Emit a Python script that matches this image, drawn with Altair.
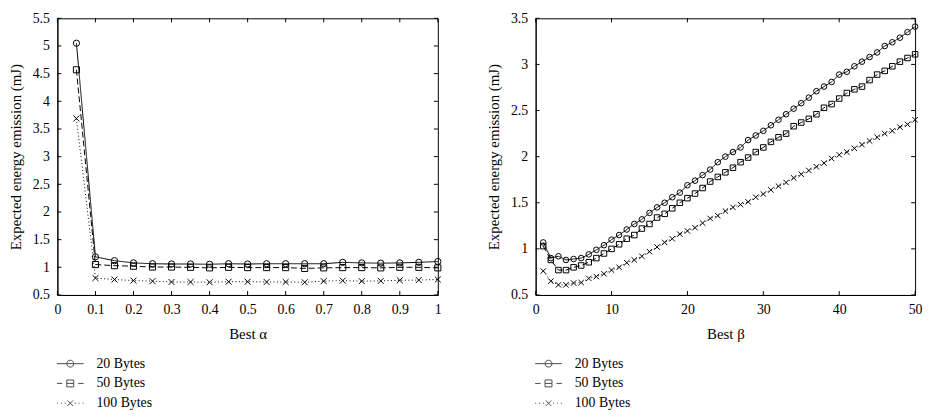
import altair as alt
import pandas as pd

FONT = "Liberation Serif"
SERIES = ["20 Bytes", "50 Bytes", "100 Bytes"]

# ---- left panel data (Best alpha) ----
alpha_x = [0.05, 0.1, 0.15, 0.2, 0.25, 0.3, 0.35, 0.4, 0.45, 0.5,
           0.55, 0.6, 0.65, 0.7, 0.75, 0.8, 0.85, 0.9, 0.95, 1.0]
alpha_20 = [5.05, 1.19, 1.12, 1.08, 1.065, 1.06, 1.06, 1.055, 1.065, 1.06,
            1.065, 1.065, 1.065, 1.065, 1.09, 1.08, 1.075, 1.08, 1.09, 1.105]
alpha_50 = [4.57, 1.05, 1.03, 1.02, 1.005, 1.005, 1.0, 0.99, 1.0, 0.995,
            0.995, 0.995, 0.98, 0.99, 0.995, 0.995, 0.99, 1.0, 1.0, 0.99]
alpha_100 = [3.69, 0.805, 0.78, 0.76, 0.75, 0.735, 0.735, 0.73, 0.74, 0.74,
             0.735, 0.735, 0.73, 0.75, 0.76, 0.75, 0.755, 0.765, 0.77, 0.78]

# ---- right panel data (Best beta) ----
beta_x = list(range(1, 51))
beta_20 = [1.07, 0.90, 0.92, 0.88, 0.89, 0.90, 0.94, 0.99, 1.04, 1.10,
           1.15, 1.21, 1.27, 1.32, 1.39, 1.45, 1.50, 1.56, 1.61, 1.69,
           1.74, 1.80, 1.86, 1.94, 2.00, 2.05, 2.10, 2.18, 2.23, 2.28,
           2.34, 2.40, 2.46, 2.52, 2.58, 2.64, 2.71, 2.76, 2.81, 2.89,
           2.92, 2.98, 3.03, 3.08, 3.13, 3.20, 3.24, 3.29, 3.35, 3.41]
beta_50 = [1.03, 0.88, 0.77, 0.77, 0.80, 0.82, 0.855, 0.90, 0.95, 1.00,
           1.05, 1.11, 1.15, 1.22, 1.27, 1.34, 1.38, 1.44, 1.50, 1.55,
           1.60, 1.66, 1.73, 1.78, 1.83, 1.88, 1.94, 1.99, 2.05, 2.10,
           2.16, 2.21, 2.25, 2.33, 2.37, 2.41, 2.46, 2.53, 2.57, 2.63,
           2.69, 2.73, 2.76, 2.83, 2.89, 2.93, 2.98, 3.03, 3.07, 3.11]
beta_100 = [0.76, 0.65, 0.61, 0.61, 0.63, 0.635, 0.68, 0.70, 0.73, 0.77,
            0.80, 0.85, 0.88, 0.92, 0.97, 1.02, 1.07, 1.11, 1.16, 1.195,
            1.23, 1.28, 1.33, 1.36, 1.41, 1.45, 1.48, 1.51, 1.56, 1.595,
            1.64, 1.68, 1.72, 1.77, 1.81, 1.85, 1.89, 1.93, 1.98, 2.02,
            2.05, 2.09, 2.13, 2.17, 2.21, 2.25, 2.28, 2.32, 2.35, 2.40]

# ---- tick values ----
alpha_xticks = [0, 0.1, 0.2, 0.3, 0.4, 0.5, 0.6, 0.7, 0.8, 0.9, 1]
alpha_yticks = [0.5, 1, 1.5, 2, 2.5, 3, 3.5, 4, 4.5, 5, 5.5]
beta_xticks = [0, 10, 20, 30, 40, 50]
beta_yticks = [0.5, 1, 1.5, 2, 2.5, 3, 3.5]

X_PATH = "M-1,-1L1,1M-1,1L1,-1"
LEGEND_PATHS = [
    "M-1.93,0H1.93M0.5,0A0.5,0.5 0 1,1 -0.5,0A0.5,0.5 0 1,1 0.5,0",
    "M-1.93,0H-1.15M-0.5,0H0.5M1.15,0H1.93M-0.5,-0.5H0.5V0.5H-0.5Z",
    "M-1.93,0H-1.78M-1.35,0H-1.2M-0.8,0H-0.65M0.65,0H0.8M1.2,0H1.35M1.78,0H1.93"
    "M-0.4,-0.4L0.4,0.4M-0.4,0.4L0.4,-0.4",
]
LABEL_EXPR = "'' + datum.value"


def make_df(xs, s20, s50, s100):
    rows = []
    for name, vals in zip(SERIES, [s20, s50, s100]):
        for xv, yv in zip(xs, vals):
            rows.append({"x": xv, "y": yv, "series": name})
    return pd.DataFrame(rows)


def panel(df, xticks, yticks, xdom, ydom, xtitle, W, H, sizes):
    xscale = alt.Scale(domain=xdom, nice=False, zero=False)
    yscale = alt.Scale(domain=ydom, nice=False, zero=False)
    xaxis = alt.Axis(title=xtitle, values=xticks, labelExpr=LABEL_EXPR,
                     ticks=False, grid=False, labelPadding=8, titlePadding=10,
                     labelFlush=False, labelOverlap=False)
    yaxis = alt.Axis(title="Expected energy emission (mJ)", values=yticks,
                     labelExpr=LABEL_EXPR, ticks=False, grid=False,
                     labelPadding=8, titlePadding=9, labelOverlap=False)

    base = alt.Chart(df)
    lines = base.mark_line(color="black", strokeWidth=1).encode(
        x=alt.X("x:Q", scale=xscale, axis=xaxis),
        y=alt.Y("y:Q", scale=yscale, axis=yaxis),
        strokeDash=alt.StrokeDash(
            "series:N",
            scale=alt.Scale(domain=SERIES, range=[[1, 0], [6, 3], [1, 2.5]]),
            legend=None,
        ),
        detail="series:N",
    )
    points = base.mark_point(filled=False, color="black", strokeWidth=1,
                             opacity=1).encode(
        x=alt.X("x:Q", scale=xscale, axis=xaxis),
        y=alt.Y("y:Q", scale=yscale, axis=yaxis),
        shape=alt.Shape("series:N",
                        scale=alt.Scale(domain=SERIES,
                                        range=["circle", "square", X_PATH]),
                        legend=None),
        size=alt.Size("series:N", scale=alt.Scale(domain=SERIES, range=sizes),
                      legend=None),
    )
    legend_layer = base.mark_point(filled=False, color="black",
                                   strokeWidth=1).encode(
        x=alt.X("x:Q", scale=xscale, axis=xaxis),
        y=alt.Y("y:Q", scale=yscale, axis=yaxis),
        shape=alt.Shape(
            "series:N",
            scale=alt.Scale(domain=SERIES, range=LEGEND_PATHS),
            legend=alt.Legend(
                orient="none", legendX=5.5, legendY=H + 62, title=None,
                symbolSize=196, symbolStrokeColor="black",
                symbolStrokeWidth=1, symbolFillColor="transparent",
                labelFont=FONT, labelFontSize=14, labelColor="black",
                labelOffset=19, rowPadding=5, padding=0,
            ),
        ),
    ).transform_filter("false")

    xt = pd.DataFrame({"v": xticks})
    yt = pd.DataFrame({"v": yticks})
    tl = 4
    top = alt.Chart(xt).mark_rule(color="black", strokeWidth=1).encode(
        x=alt.X("v:Q", scale=xscale, axis=xaxis), y=alt.value(0), y2=alt.value(tl))
    bot = alt.Chart(xt).mark_rule(color="black", strokeWidth=1).encode(
        x=alt.X("v:Q", scale=xscale, axis=xaxis), y=alt.value(H - tl), y2=alt.value(H))
    left = alt.Chart(yt).mark_rule(color="black", strokeWidth=1).encode(
        y=alt.Y("v:Q", scale=yscale, axis=yaxis), x=alt.value(0), x2=alt.value(tl))
    right = alt.Chart(yt).mark_rule(color="black", strokeWidth=1).encode(
        y=alt.Y("v:Q", scale=yscale, axis=yaxis), x=alt.value(W - tl), x2=alt.value(W))

    return alt.layer(top, bot, left, right, lines, points, legend_layer).resolve_scale(
        shape="independent"
    ).properties(width=W, height=H)


df_a = make_df(alpha_x, alpha_20, alpha_50, alpha_100)
df_b = make_df(beta_x, beta_20, beta_50, beta_100)

H = 280
left_chart = panel(df_a, alpha_xticks, alpha_yticks, [0, 1], [0.5, 5.5],
                   "Best α", 385, H, [40, 36, 25])
right_chart = panel(df_b, beta_xticks, beta_yticks, [0, 50], [0.5, 3.5],
                    "Best β", 384, H, [32, 30, 25])

chart = alt.hconcat(left_chart, right_chart, spacing=43).resolve_scale(
    shape="independent", strokeDash="independent", size="independent"
).resolve_legend(shape="independent").properties(
    padding={"left": 0, "top": 0, "right": 0, "bottom": 0}
).configure(font=FONT).configure_view(
    stroke="black", strokeWidth=1
).configure_axis(
    domainColor="black", domainWidth=1, labelFont=FONT, labelFontSize=14,
    labelColor="black", titleFont=FONT, titleFontSize=15,
    titleFontWeight="normal", titleColor="black",
)

chart.save("out.html", embed_options={"renderer": "svg", "actions": False})
